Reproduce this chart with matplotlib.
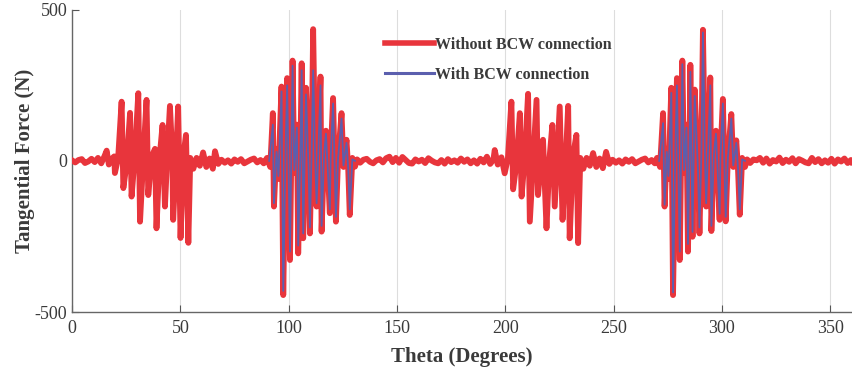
import numpy as np
import matplotlib
matplotlib.use("Agg")
import matplotlib.pyplot as plt

# Red series (without BCW connection), split in quiet stretches and bursts
red_quiet_a_t = [0, 1.5, 3, 4.5, 6, 7.5, 9, 10.5, 12, 13.5, 15, 16, 17]
red_quiet_a_f = [2, -5, 3, 6, -7, -2, 7, -4, 10, -8, 16, 34, -12]

red_burst1_t = [18.0, 19.5, 19.8, 21.3, 22.9, 23.7, 25.2, 26.8, 27.5, 29.0, 30.6, 31.4, 32.9,
                34.4, 35.2, 36.8, 38.3, 39.0, 40.4, 41.8, 42.9, 44.0, 45.2, 46.3, 46.7, 47.9,
                49.0, 50.1, 51.4, 52.6, 53.7, 54.6]
red_burst1_f = [5, 15, -40, 10, 196, -90, -10, 159, -118, 15, 224, -201, 10,
                202, -113, 15, 40, -223, 10, 119, -151, 20, 182, 20, -195, -10,
                180, -255, 15, 86, -271, 10]

red_quiet_b_t = [56.0, 57.5, 59, 60.5, 62, 63.5, 65, 66, 67.5, 69, 70.5, 72, 73.5, 75,
                 76.5, 78, 79.5, 81, 82.5, 84, 85.5, 87, 88.5]
red_quiet_b_f = [-26, 10, -16, 28, -20, 8, -26, 32, -10, 4, -6, 2, -9, 5,
                 -3, 6, -8, -2, 4, 8, -5, 3, -8]

red_burst2_t = [90.0, 91.5, 92.7, 93.2, 94.4, 95.2, 96.7, 97.5, 98.6, 99.3, 100.6, 101.8,
                102.6, 103.8, 104.4, 105.4, 106.0, 106.7, 108.0, 109.2, 109.8, 110.6, 111.3,
                112.3, 112.9, 114.7, 115.2, 116.4, 117.2, 119.0, 119.4, 120.5, 121.8, 122.8,
                124.4, 125.3, 126.7, 127.5, 128.2, 129.4, 130.6, 131.6]
red_burst2_f = [10, -20, 158, -151, 40, -60, 246, -444, 60, 274, -328, 332,
                -40, 120, -306, 20, 323, -256, 242, -30, -240, 40, 436,
                -20, -151, 279, -234, 30, 100, -173, 20, 208, -201, 10,
                158, -20, 70, -30, -179, 10, -19, 5]

red_quiet_c_t = [133, 134.5, 136, 137.5, 139, 140.5, 142, 143.5, 145, 146.5, 148, 149.5,
                 151, 152.5, 154, 155.5, 157, 158.5, 160, 161.5, 163, 164.5, 166, 167.5,
                 169, 170.5, 172, 173.5, 175, 176.5, 178, 179.5, 181, 182.5, 184, 185.5,
                 187, 188.5, 190, 191.5, 193, 194.5]
red_quiet_c_f = [-6, 4, 7, -3, -8, 2, 6, -5, 9, 14, -4, 10, -6, 13, 3, -7,
                 -9, 5, -2, 4, -7, 9, 1, -5, -8, 3, -9, 6, -4, 2, -6, 8,
                 -3, 5, -8, 2, -9, 7, -5, 14, -10, 4]

red_burst3_t = [195.1, 196.5, 198.2, 199.7, 201.2, 202.8, 203.6, 205.1, 206.7, 207.5, 209.0,
                210.5, 211.3, 212.9, 214.4, 215.1, 216.6, 217.4, 219.0, 220.4, 221.7, 222.8,
                224.0, 225.1, 226.4, 227.8, 229.0, 229.7, 231.2, 232.8, 233.6, 234.6]
red_burst3_f = [36, -12, 12, -41, 10, 196, -94, -10, 158, -118, 15,
                222, -201, 10, 202, -113, 15, 70, -223, 10, 119, -151,
                20, 180, -195, -10, 182, -256, 15, 86, -272, 10]

red_quiet_d_t = [236.0, 237.5, 239, 240.5, 242, 243.5, 245, 246.5, 248, 249.5, 251,
                 252.5, 254, 255.5, 257, 258.5, 260, 261.5, 263, 264.5, 266, 267.5, 269]
red_quiet_d_f = [-26, 10, -16, 26, -20, 8, -24, 30, -10, 4, -6,
                 2, -9, 5, -3, 6, -8, -2, 4, 8, -5, 3, -8]

red_burst4_t = [270.0, 271.4, 272.8, 273.5, 274.5, 275.3, 276.6, 277.4, 278.5, 279.2, 280.5,
                281.7, 282.5, 283.6, 284.3, 285.0, 285.4, 286.4, 287.4, 288.9, 289.6, 290.5,
                291.2, 292.2, 292.7, 294.6, 295.1, 296.3, 297.2, 298.9, 299.3, 300.4, 301.7,
                302.7, 304.3, 305.2, 306.6, 307.4, 308.2, 309.3, 310.6, 311.6]
red_burst4_f = [10, -20, 158, -151, 40, -60, 242, -444, 60, 274, -328,
                332, -40, 120, -300, 20, 318, -251, 236, -30, -240, 40,
                434, -20, -151, 276, -232, 30, 100, -195, 20, 205, -200,
                10, 155, -20, 68, -30, -178, 10, -20, 5]

red_quiet_e_t = [313, 314.5, 316, 317.5, 319, 320.5, 322, 323.5, 325, 326.5, 328, 329.5,
                 331, 332.5, 334, 335.5, 337, 338.5, 340, 341.5, 343, 344.5, 346, 347.5,
                 349, 350.5, 352, 353.5, 355, 356.5, 358, 359.5, 360]
red_quiet_e_f = [-7, 5, 2, 10, -6, 8, -9, 3, -2, 11, -7, 4, -3, 9, -8, 6,
                 1, -5, -8, 10, -4, 6, -8, 2, -6, 7, -9, 5, -2, 8, -7, 3, -4]

# Blue series (with BCW connection) - seen inside the two large bursts
blue_burst2_t = [91.0, 92.7, 93.2, 94.4, 95.3, 96.7, 97.5, 98.6, 99.3, 100.6, 101.8, 102.6,
                 103.8, 104.4, 105.4, 106.0, 106.7, 108.0, 109.2, 109.8, 110.6, 111.3, 112.3,
                 112.9, 114.7, 115.2, 116.4, 117.2, 119.0, 119.4, 120.5, 121.8, 122.8, 124.4,
                 125.3, 126.7, 127.5, 128.2, 129.4, 130.6]
blue_burst2_f = [0, 120, -140, 30, -50, 230, -430, 50, 250, -300, 315, -30,
                 110, -280, 15, 300, -240, 220, -25, -220, 30, 300, -15,
                 -140, 250, -215, 25, 90, -160, 15, 190, -185, 10, 140,
                 -15, 60, -25, -160, 5, 0]

blue_burst4_t = [271.0, 272.8, 273.5, 274.5, 275.3, 276.6, 277.4, 278.5, 279.2, 280.5, 281.7,
                 282.5, 283.6, 284.3, 285.0, 285.4, 286.4, 287.4, 288.9, 289.6, 290.5, 291.2,
                 292.2, 292.7, 294.6, 295.1, 296.3, 297.2, 298.9, 299.3, 300.4, 301.7, 302.7,
                 304.3, 305.2, 306.6, 307.4, 308.2, 309.3, 310.6]
blue_burst4_f = [0, 125, -145, 30, -50, 225, -435, 50, 250, -300, 320,
                 -30, 110, -275, 15, 295, -235, 215, -25, -220, 30, 425,
                 -15, -140, 250, -215, 25, 90, -175, 15, 190, -185, 10,
                 140, -15, 60, -25, -160, 5, 0]

red_t = np.concatenate([red_quiet_a_t, red_burst1_t, red_quiet_b_t, red_burst2_t, red_quiet_c_t,
                        red_burst3_t, red_quiet_d_t, red_burst4_t, red_quiet_e_t])
red_f = np.concatenate([red_quiet_a_f, red_burst1_f, red_quiet_b_f, red_burst2_f, red_quiet_c_f,
                        red_burst3_f, red_quiet_d_f, red_burst4_f, red_quiet_e_f])
blue_t = np.concatenate([blue_burst2_t, [np.nan], blue_burst4_t])
blue_f = np.concatenate([blue_burst2_f, [np.nan], blue_burst4_f])

plt.rcParams['font.family'] = ['Liberation Serif', 'DejaVu Serif']
plt.rcParams['axes.unicode_minus'] = False

fig = plt.figure(figsize=(8.52, 3.78), dpi=100)
ax = fig.add_axes([0.0845, 0.1746, 0.9155, 0.7994])

ax.plot(red_t, red_f, color='#e8353c', lw=4.2, label='Without BCW connection', zorder=3)
ax.plot(blue_t, blue_f, color='#5b5fae', lw=1.3, label='With BCW connection', zorder=4)

ax.set_xlim(0, 360)
ax.set_ylim(-500, 500)
ax.set_xticks(np.arange(0, 360, 50))
ax.set_yticks([-500, 0, 500])
ax.grid(axis='x', color='#dddddd', lw=0.8)
ax.set_axisbelow(True)
ax.tick_params(direction='in', length=5, colors='#555555', labelcolor='#3a3a3a', labelsize=13)
ax.tick_params(axis='x', pad=6)
for side in ['top', 'right']:
    ax.spines[side].set_visible(False)
for side in ['left', 'bottom']:
    ax.spines[side].set_color('#666666')
    ax.spines[side].set_linewidth(1.0)

ax.set_xlabel('Theta (Degrees)', fontsize=15, fontweight='bold', color='#3a3a3a', labelpad=7)
ax.set_ylabel('Tangential Force (N)', fontsize=15, fontweight='bold', color='#3a3a3a', labelpad=0)

leg = ax.legend(loc='upper left', bbox_to_anchor=(0.401, 0.91), frameon=False,
                prop={'weight': 'bold', 'size': 11.5}, handlelength=3.1, handletextpad=0.05,
                labelspacing=0.85, borderpad=0, borderaxespad=0)
for txt in leg.get_texts():
    txt.set_color('#3a3a3a')
leg.get_lines()[0].set_linewidth(4)
leg.get_lines()[1].set_linewidth(2.2)

fig.savefig('out.png', dpi=100)
